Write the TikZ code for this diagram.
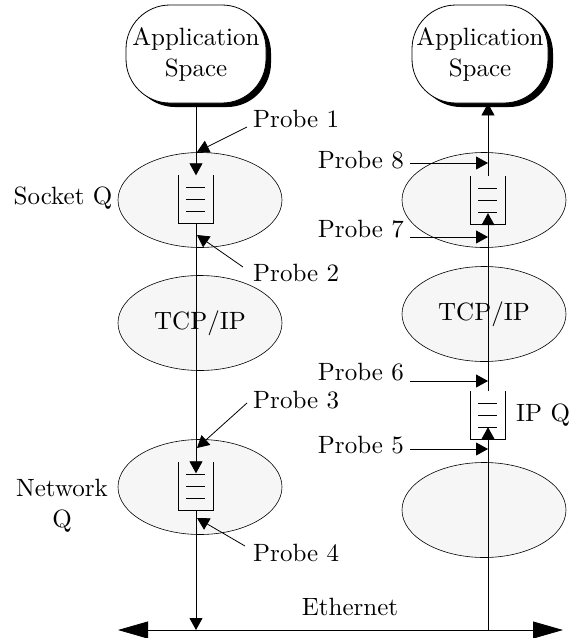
\documentclass[tikz,border=0pt]{standalone}
\usepackage{fontspec}
\setmainfont{lmroman10-regular.otf}
\usetikzlibrary{shapes.geometric,arrows.meta,shadows,calc}
\begin{document}
\begin{tikzpicture}[x=1pt,y=-1pt,
  every node/.style={font=\fontsize{25}{31}\selectfont},
  line/.style={line width=0.8pt},
  arr/.style={line width=0.8pt,-{Triangle[length=12pt,width=13pt]}},
  bigarr/.style={line width=0.8pt,{Triangle[length=30pt,width=17pt]}-{Triangle[length=30pt,width=17pt]}},
  appbox/.style={draw,line width=0.8pt,fill=white,rounded corners=44pt,align=center,
     minimum width=140pt,minimum height=98pt,inner sep=0pt,
     drop shadow={shadow xshift=5pt,shadow yshift=-4pt,fill=black,opacity=1}},
  layer/.style={draw,ellipse,line width=0.6pt,fill=gray!7,minimum width=164pt,minimum height=95pt,inner sep=0pt},
  bucketbox/.style={minimum width=35pt,minimum height=48pt,inner sep=0pt},
  lbl/.style={inner sep=0pt}
]
\useasboundingbox (0,0) rectangle (570,638);
\newcommand{\qbucket}[2]{%
  \node[bucketbox] (#1) at (#2) {};
  \draw[line] (#1.north west) -- (#1.south west) -- (#1.south east) -- (#1.north east);
  \foreach \f in {0.25,0.5,0.75}
    \draw[line] ($(#1.north west)!\f!(#1.south west)+(8,0)$) -- ($(#1.north east)!\f!(#1.south east)+(-9,0)$);
}

% application spaces
\node[appbox] (app1) at (196,54) {Application\\Space};
\node[appbox,minimum width=136pt] (app2) at (480,54) {Application\\Space};

% layers
\node[layer] (sq1) at (200,200) {};
\node[layer] (tcp1) at (200,323) {TCP/IP};
\node[layer] (nq1) at (200,487) {};
\node[layer] (sq2) at (484,200) {};
\node[layer] (tcp2) at (484,314) {TCP/IP};
\node[layer] (ll2) at (484,510) {};

% queues
\qbucket{b1}{196,199.5}
\qbucket{b3}{196,486.5}
\qbucket{b2}{488,200}
\qbucket{bq}{488,415}

% ethernet
\coordinate (eL) at (118,630);
\coordinate (eR) at (563,630);
\coordinate (e1) at (196,630);
\coordinate (e2) at (488,630);
\draw[bigarr] (eL) -- (eR);
\node[lbl] (eth) at (350,607) {Ethernet};

% left path
\draw[arr] (app1.south) -- (b1.north);
\draw[arr] (b1.south) -- ([yshift=-11pt]b3.north);
\draw[arr] (b3.south) -- (e1);

% right path
\draw[arr] (e2) -- ([yshift=12pt]bq.south);
\draw[arr] (bq.north) -- ([yshift=11pt]b2.south);
\draw[arr] (b2.north) -- (b2.north |- app2.south);

% side labels
\node[lbl] (lsq) at (63,198) {Socket Q};
\node[lbl,align=center] (lnq) at (62,506) {Network\\Q};
\node[lbl,anchor=west] (lipq) at (516,415) {IP Q};

% left probes
\node[lbl,anchor=west] (p1) at (253,119) {Probe 1};
\node[lbl,anchor=west] (p2) at (253,273) {Probe 2};
\node[lbl,anchor=west] (p3) at (253,400) {Probe 3};
\node[lbl,anchor=west] (p4) at (253,553) {Probe 4};
\coordinate (t1) at (197,152);
\coordinate (t2) at (197,235);
\coordinate (t3) at (197,448);
\coordinate (t4) at (197,518);
\draw[arr] ([xshift=-6pt,yshift=-8pt]p1.west) -- (t1);
\draw[arr] ([xshift=-10pt,yshift=6pt]p2.west) -- (t2);
\draw[arr] ([xshift=-6pt,yshift=-3pt]p3.west) -- (t3);
\draw[arr] ([xshift=-8pt,yshift=7pt]p4.west) -- (t4);

% right probes
\node[lbl,anchor=east] (p8) at (404,160) {Probe 8};
\node[lbl,anchor=east] (p7) at (404,229) {Probe 7};
\node[lbl,anchor=east] (p6) at (404,372) {Probe 6};
\node[lbl,anchor=east] (p5) at (404,445) {Probe 5};
\coordinate (t8) at (488,163);
\coordinate (t7) at (488,237);
\coordinate (t6) at (488,381);
\coordinate (t5) at (488,449);
\draw[arr] ([xshift=6pt]p8.east |- t8) -- (t8);
\draw[arr] ([xshift=6pt]p7.east |- t7) -- (t7);
\draw[arr] ([xshift=6pt]p6.east |- t6) -- (t6);
\draw[arr] ([xshift=6pt]p5.east |- t5) -- (t5);
\end{tikzpicture}
\end{document}
